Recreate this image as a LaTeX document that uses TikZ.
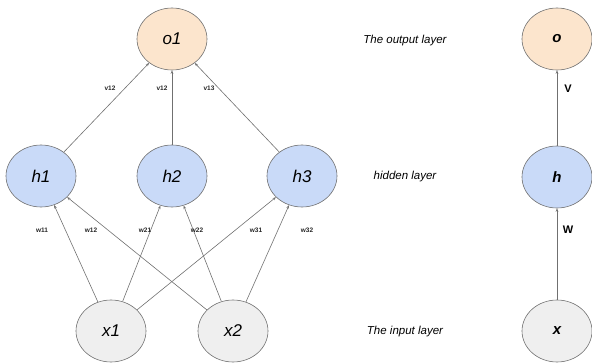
\documentclass[tikz,border=0pt]{standalone}
\usepackage{fontspec}
\setmainfont{Liberation Sans}
\usetikzlibrary{shapes.geometric,arrows.meta}
\definecolor{outfill}{HTML}{FCE5CD}
\definecolor{hidfill}{HTML}{C9DAF8}
\definecolor{infill}{HTML}{EFEFEF}
\definecolor{edgecol}{HTML}{707070}
\tikzset{
  neuron/.style={ellipse, draw=edgecol, line width=0.6pt, minimum width=70pt, minimum height=62pt, inner sep=0pt, font=\fontsize{17}{19}\selectfont\itshape},
  bigname/.style={neuron, font=\fontsize{15}{18}\selectfont\bfseries\itshape},
  conn/.style={draw=edgecol, line width=0.6pt, -{Stealth[length=3.5pt,width=2.6pt]}},
  wlab/.style={font=\fontsize{6.5}{7}\selectfont\bfseries, text=black!85},
  mlab/.style={font=\fontsize{11}{13}\selectfont\bfseries},
  layerlab/.style={font=\fontsize{11.5}{13}\selectfont\itshape}
}
\begin{document}
\begin{tikzpicture}[x=1pt,y=1pt]
\useasboundingbox (0,0) rectangle (592,362);
% left network
\node[neuron, fill=outfill] (o1) at (172,323) {o1};
\node[neuron, fill=hidfill] (h1) at (41,186) {h1};
\node[neuron, fill=hidfill] (h2) at (172,186) {h2};
\node[neuron, fill=hidfill] (h3) at (302,186) {h3};
\node[neuron, fill=infill] (x1) at (111,31) {x1};
\node[neuron, fill=infill] (x2) at (233,31) {x2};
\draw[conn] (h1) -- (o1);
\draw[conn] (h2) -- (o1);
\draw[conn] (h3) -- (o1);
\draw[conn] (x1) -- (h1);
\draw[conn] (x2) -- (h1);
\draw[conn] (x1) -- (h2);
\draw[conn] (x2) -- (h2);
\draw[conn] (x1) -- (h3);
\draw[conn] (x2) -- (h3);
\node[wlab] (lv1) at (110,274) {v12};
\node[wlab] (lv2) at (162,274) {v12};
\node[wlab] (lv3) at (209,274) {v13};
\node[wlab] (lw11) at (42,132) {w11};
\node[wlab] (lw12) at (91,132) {w12};
\node[wlab] (lw21) at (145,132) {w21};
\node[wlab] (lw22) at (197,132) {w22};
\node[wlab] (lw31) at (256,132) {w31};
\node[wlab] (lw32) at (307,132) {w32};
% layer labels
\node[layerlab] (lo) at (405,321) {The output layer};
\node[layerlab] (lh) at (405,185) {hidden layer};
\node[layerlab] (li) at (405,30) {The input layer};
% right network
\node[bigname, fill=outfill] (o) at (557,323) {o};
\node[bigname, fill=hidfill] (h) at (557,185) {h};
\node[bigname, fill=infill] (x) at (557,31) {x};
\draw[conn] (h) -- (o);
\draw[conn] (x) -- (h);
\node[mlab] (lV) at (568,273) {V};
\node[mlab] (lW) at (568,132) {W};
\end{tikzpicture}
\end{document}
